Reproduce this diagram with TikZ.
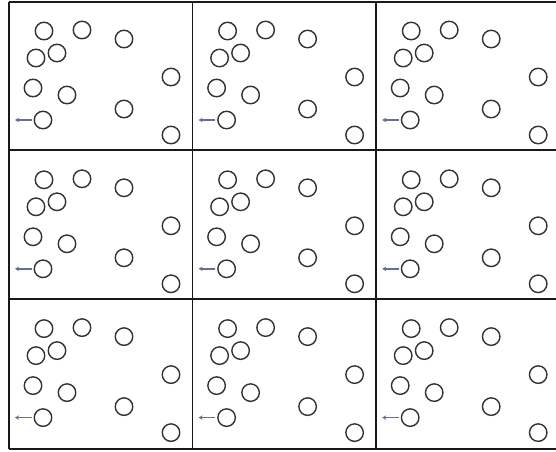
\documentclass[tikz,border=0pt]{standalone}
\usetikzlibrary{arrows.meta}
\definecolor{arrowblue}{RGB}{104,108,152}
\definecolor{inkgray}{RGB}{50,50,50}
\begin{document}
\begin{tikzpicture}[x=1pt,y=-1pt,
  ball/.style={circle,draw=inkgray,line width=1.4pt,minimum size=17.5pt,inner sep=0pt},
  gridline/.style={draw=black!90,line width=1.5pt},
  push/.style={-{Stealth[length=4pt,width=4.5pt]},draw=arrowblue,line width=1.6pt,shorten <=2pt}]
\useasboundingbox (0,0) rectangle (556,451);
\fill[white] (0,0) rectangle (556,451);
% grid
\foreach \yy in {2,150,299,449} \draw[gridline] (9,\yy) -- (556,\yy);
\foreach \xx in {9,192.5,376} \draw[gridline] (\xx,2) -- (\xx,449);
% panels
\foreach \r in {0,1,2} {
  \foreach \c in {0,1,2} {
    \begin{scope}[shift={(\c*183.6,\r*148.8)}]
      \foreach \k/\px/\py in {1/44/31,2/82/30,3/124/39,4/57/53,5/36/58,6/171/77,7/33/88,8/67/95,9/124/109,10/43/120,11/171/135}
        \node[ball] (b-\r-\c-\k) at (\px,\py) {};
      \coordinate (t-\r-\c) at (15,120);
      \draw[push] (b-\r-\c-10) -- (t-\r-\c);
    \end{scope}
  }
}
\end{tikzpicture}
\end{document}
